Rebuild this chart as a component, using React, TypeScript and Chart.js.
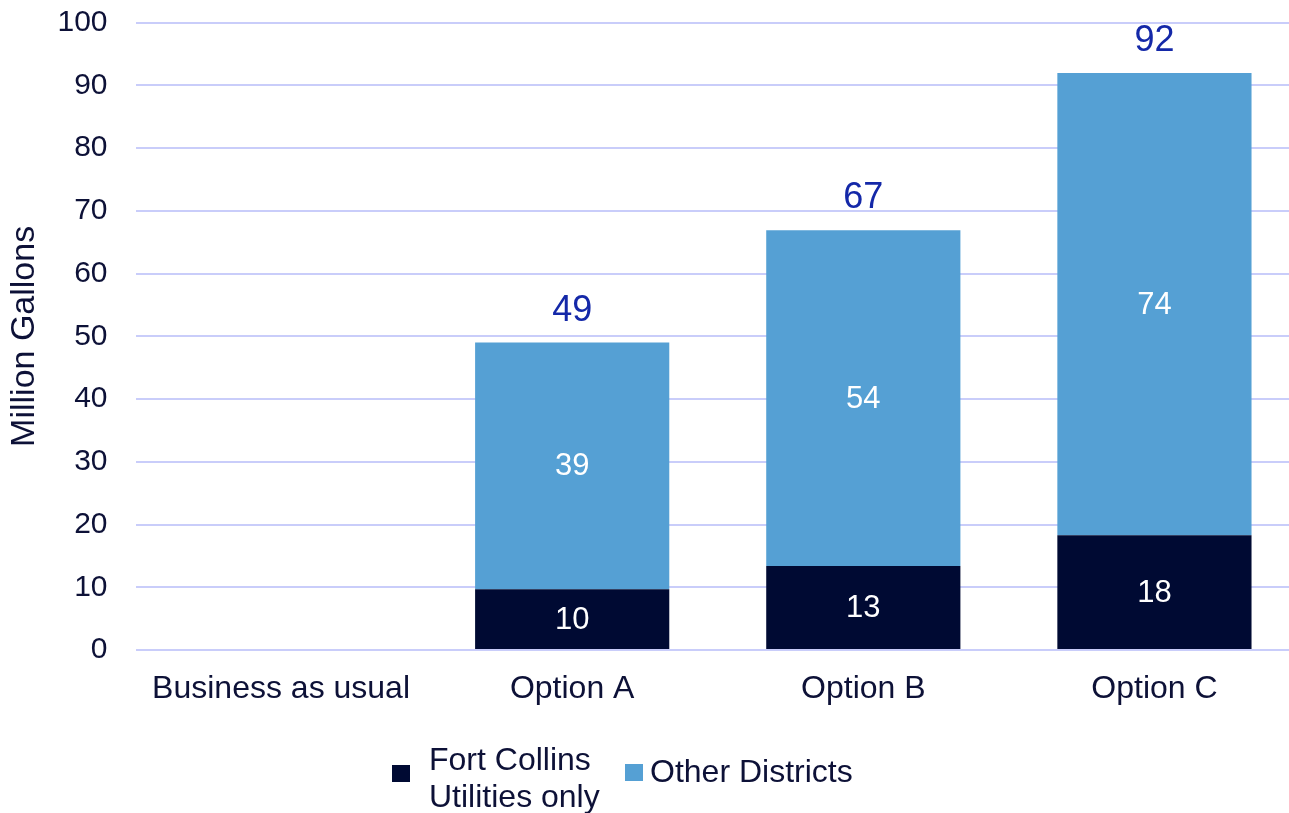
import React, { useEffect, useRef } from "react";
import { Chart, registerables } from "chart.js";

Chart.register(...registerables);

const categories = ["Business as usual", "Option A", "Option B", "Option C"];
const fortCollins = [0, 9.7, 13.4, 18.3];
const otherDistricts = [0, 39.3, 53.5, 73.7];
const yTicks = [0, 10, 20, 30, 40, 50, 60, 70, 80, 90, 100];

const DARK = "#000a33";
const LIGHT = "#55a0d4";
const TEXT = "#0d1137";
const TOTAL = "#1428a8";
const GRID = "#c9cdfa";
const FONT = "'Liberation Sans', Arial, sans-serif";

const labelsPlugin = {
  id: "stackLabels",
  afterDatasetsDraw(chart: any) {
    const ctx = chart.ctx;
    const yScale = chart.scales.y;
    ctx.save();
    ctx.textAlign = "center";
    ctx.textBaseline = "middle";
    chart.data.datasets.forEach((ds: any, di: number) => {
      const meta = chart.getDatasetMeta(di);
      meta.data.forEach((bar: any, i: number) => {
        const v = ds.data[i];
        if (!v) return;
        ctx.fillStyle = "#ffffff";
        ctx.font = `31px ${FONT}`;
        ctx.fillText(String(Math.round(v)), bar.x, (bar.y + bar.base) / 2 + 1);
      });
    });
    const meta0 = chart.getDatasetMeta(0);
    categories.forEach((_, i) => {
      const total = fortCollins[i] + otherDistricts[i];
      if (!total) return;
      const x = meta0.data[i].x;
      const y = yScale.getPixelForValue(total) - 32;
      ctx.fillStyle = TOTAL;
      ctx.font = `36px ${FONT}`;
      ctx.fillText(String(Math.round(total)), x, y);
    });
    ctx.restore();
  },
};

export default function App() {
  const ref = useRef<HTMLCanvasElement | null>(null);
  useEffect(() => {
    if (!ref.current) return;
    const chart = new Chart(ref.current, {
      type: "bar",
      data: {
        labels: categories,
        datasets: [
          {
            label: "Fort Collins Utilities only",
            data: fortCollins,
            backgroundColor: DARK,
            borderWidth: 0,
            barPercentage: 0.667,
            categoryPercentage: 1,
          },
          {
            label: "Other Districts",
            data: otherDistricts,
            backgroundColor: LIGHT,
            borderWidth: 0,
            barPercentage: 0.667,
            categoryPercentage: 1,
          },
        ],
      },
      options: {
        animation: false,
        responsive: false,
        maintainAspectRatio: false,
        layout: { padding: { top: 22.7, left: 0, right: 10, bottom: 0 } },
        plugins: {
          legend: { display: false },
          tooltip: { enabled: false },
        },
        scales: {
          x: {
            stacked: true,
            grid: { display: false, drawTicks: false },
            border: { display: false },
            ticks: {
              color: TEXT,
              font: { family: FONT, size: 32 },
              padding: 20,
              maxRotation: 0,
            },
            afterFit(scale: any) {
              scale.height = 70;
              scale.paddingTop = 0;
              scale.paddingBottom = 0;
            },
          },
          y: {
            stacked: true,
            min: 0,
            max: 100,
            afterBuildTicks(scale: any) {
              scale.ticks = yTicks.map((v) => ({ value: v }));
            },
            grid: { color: GRID, lineWidth: 2, drawTicks: false },
            border: { display: false },
            ticks: {
              color: TEXT,
              font: { family: FONT, size: 30 },
              padding: 28,
            },
            title: {
              display: true,
              text: "Million Gallons",
              color: TEXT,
              font: { family: FONT, size: 34 },
              padding: { top: 4, bottom: 0 },
            },
            afterFit(scale: any) {
              scale.width = 135.5;
              scale.paddingTop = 0;
              scale.paddingBottom = 0;
            },
          },
        },
      },
      plugins: [labelsPlugin],
    });
    return () => chart.destroy();
  }, []);

  const textStyle: React.CSSProperties = {
    position: "absolute",
    fontFamily: FONT,
    fontSize: 32,
    lineHeight: "37px",
    color: TEXT,
    whiteSpace: "nowrap",
  };

  return (
    <div style={{ position: "fixed", left: 0, top: 0, width: 1310, height: 813, background: "#fff" }}>
      <canvas ref={ref} width={1310} height={720} style={{ display: "block", width: 1310, height: 720 }} />
      <div style={{ position: "absolute", left: 392, top: 765, width: 18, height: 17, background: DARK }} />
      <div style={{ ...textStyle, left: 429, top: 741 }}>
        Fort Collins
        <br />
        Utilities only
      </div>
      <div style={{ position: "absolute", left: 625, top: 764, width: 18, height: 17, background: LIGHT }} />
      <div style={{ ...textStyle, left: 650, top: 753 }}>Other Districts</div>
    </div>
  );
}
